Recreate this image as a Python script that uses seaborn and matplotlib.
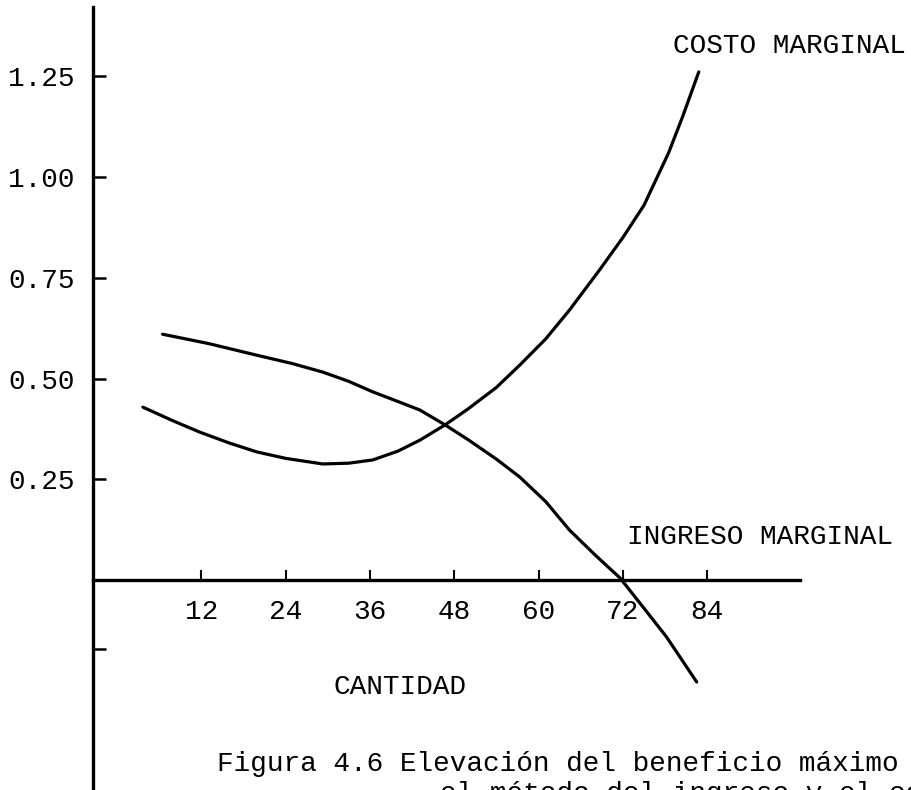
import matplotlib
matplotlib.use("Agg")
import matplotlib.pyplot as plt
import seaborn as sns
import pandas as pd

# Cantidad (unidades) y costo marginal
cantidad_costo = [3.7, 8.0, 11.8, 16.0, 19.9, 24.0, 29.3, 33.0, 36.4, 40.0, 43.1, 46.7,
                  50.0, 54.0, 57.3, 61.0, 64.4, 68.7, 72.0, 75.0, 78.5, 80.5, 82.8]
costo_marginal = [0.429, 0.395, 0.367, 0.340, 0.318, 0.302, 0.288, 0.290, 0.298, 0.320,
                  0.347, 0.385, 0.425, 0.478, 0.533, 0.598, 0.670, 0.770, 0.850, 0.930,
                  1.060, 1.150, 1.261]

# Cantidad (unidades) e ingreso marginal
cantidad_ingreso = [6.5, 13.0, 19.9, 25.0, 29.3, 33.0, 36.4, 40.0, 43.1, 46.7, 50.0,
                    54.0, 57.3, 61.0, 64.4, 68.0, 71.6, 75.0, 78.2, 82.5]
ingreso_marginal = [0.610, 0.587, 0.558, 0.537, 0.516, 0.493, 0.467, 0.443, 0.422, 0.385,
                    0.348, 0.300, 0.256, 0.195, 0.124, 0.063, 0.005, -0.070, -0.141, -0.253]

x_ticks = [12, 24, 36, 48, 60, 72, 84]
y_ticks = [0.25, 0.50, 0.75, 1.00, 1.25]
y_tick_labels = ["0.25", "0.50", "0.75", "1.00", "1.25"]

sns.set_theme(style="white")
plt.rcParams["font.family"] = ["Liberation Mono", "DejaVu Sans Mono"]

W, H = 912, 790
fig = plt.figure(figsize=(W / 100, H / 100), dpi=100)
fig.patch.set_facecolor("white")
ax = fig.add_axes([93 / W, 0, (800 - 93) / W, 1 - 7 / H])
ax.set_facecolor("white")

costo = pd.DataFrame({"cantidad": cantidad_costo, "valor": costo_marginal})
ingreso = pd.DataFrame({"cantidad": cantidad_ingreso, "valor": ingreso_marginal})

sns.lineplot(data=costo, x="cantidad", y="valor", color="black", lw=2.3,
             sort=False, estimator=None, ax=ax)
sns.lineplot(data=ingreso, x="cantidad", y="valor", color="black", lw=2.3,
             sort=False, estimator=None, ax=ax)

ax.set_xlim(-3.4, 97.2)
ax.set_ylim(-0.521, 1.422)

for side in ("top", "right"):
    ax.spines[side].set_visible(False)
ax.spines["bottom"].set_position(("data", 0))
for side in ("left", "bottom"):
    ax.spines[side].set_color("black")
    ax.spines[side].set_linewidth(2.4)

ax.set_xticks(x_ticks)
ax.set_xticklabels([str(t) for t in x_ticks])
ax.set_yticks(y_ticks)
ax.set_yticklabels(y_tick_labels)
ax.set_yticks([-0.17], minor=True)

ax.tick_params(axis="y", which="both", direction="in", length=9, width=1.8,
               pad=13, labelsize=20, colors="black", left=True)
ax.tick_params(axis="x", direction="in", length=7, width=1.5,
               pad=14, labelsize=20, colors="black", bottom=True)
ax.set_xlabel("")
ax.set_ylabel("")


def px_text(x, y, s, **kw):
    fig.text(x / W, 1 - y / H, s, color="black", **kw)


px_text(673, 46, "COSTO MARGINAL", ha="left", va="center", fontsize=20)
px_text(627, 537, "INGRESO MARGINAL", ha="left", va="center", fontsize=20)
px_text(334, 687, "CANTIDAD", ha="left", va="center", fontsize=20)
px_text(217, 764, "Figura 4.6 Elevación del beneficio máximo", ha="left", va="center", fontsize=20)
px_text(440, 781, "el método del ingreso y el costo marginal", ha="left", va="top", fontsize=20)

fig.savefig("out.png", dpi=100, facecolor="white")
